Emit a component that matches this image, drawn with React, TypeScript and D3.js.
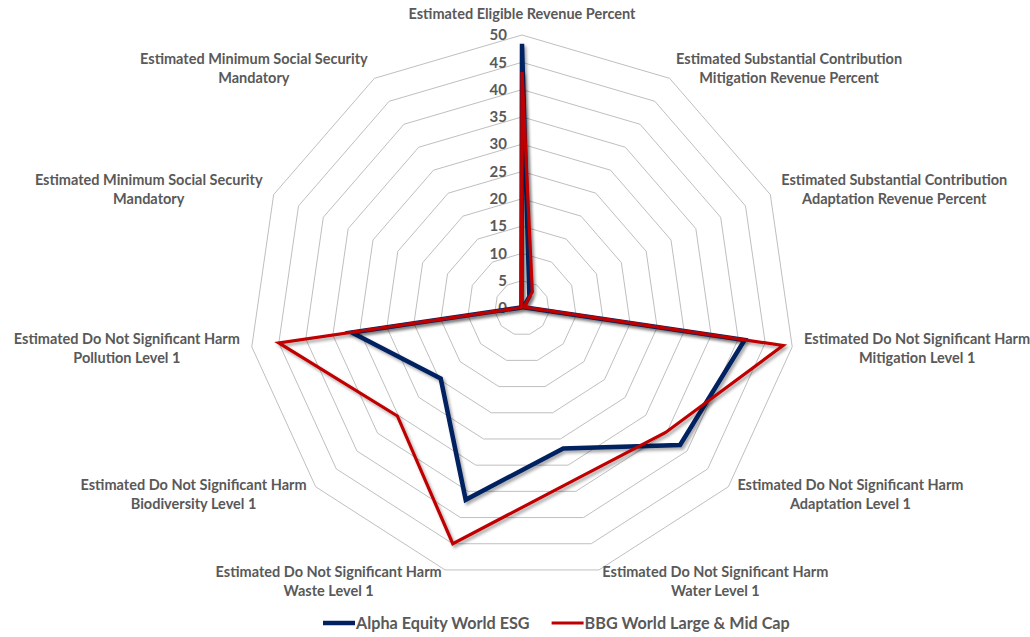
import React from "react";
import * as d3 from "d3";

const WIDTH = 1030;
const HEIGHT = 637;
const CENTER = { x: 522, y: 308 };
const RADIUS = 273;

const categories = [
  ["Estimated Eligible Revenue Percent"],
  ["Estimated Substantial Contribution", "Mitigation Revenue Percent"],
  ["Estimated Substantial Contribution", "Adaptation Revenue Percent"],
  ["Estimated Do Not Significant Harm", "Mitigation Level 1"],
  ["Estimated Do Not Significant Harm", "Adaptation Level 1"],
  ["Estimated Do Not Significant Harm", "Water Level 1"],
  ["Estimated Do Not Significant Harm", "Waste Level 1"],
  ["Estimated Do Not Significant Harm", "Biodiversity Level 1"],
  ["Estimated Do Not Significant Harm", "Pollution Level 1"],
  ["Estimated Minimum Social Security", "Mandatory"],
  ["Estimated Minimum Social Security", "Mandatory"],
];

const alphaValues = [48.4, 2.5, 0.3, 41.2, 38.3, 26.8, 36.6, 19.7, 31.5, 0.2, 0.2];
const bbgValues = [43.2, 3.5, 0.4, 48.3, 34.8, 33, 45, 30.2, 45, 0.2, 0.2];

const ticks = [0, 5, 10, 15, 20, 25, 30, 35, 40, 45, 50];

const seriesNames = ["Alpha Equity World ESG", "BBG World Large & Mid Cap"];
const seriesColors = ["#002060", "#C00000"];
const seriesWidths = [4.5, 3.2];

const FONT = "Lato, 'Open Sans', sans-serif";
const TEXT_COLOR = "#595959";

const RadarChart = () => {
  const ref = React.useRef<SVGSVGElement>(null);

  React.useEffect(() => {
    const svg = d3.select(ref.current!);
    svg.selectAll("*").remove();

    const n = categories.length;
    const r = d3.scaleLinear().domain([0, 50]).range([0, RADIUS]);
    const angle = (i: number) => (i * 2 * Math.PI) / n;
    const point = (i: number, v: number): [number, number] => [
      CENTER.x + Math.sin(angle(i)) * r(v),
      CENTER.y - Math.cos(angle(i)) * r(v),
    ];

    const defs = svg.append("defs");
    defs
      .append("filter")
      .attr("id", "shadow")
      .attr("x", "-10%")
      .attr("y", "-10%")
      .attr("width", "130%")
      .attr("height", "130%")
      .append("feDropShadow")
      .attr("dx", 2)
      .attr("dy", 2.5)
      .attr("stdDeviation", 1.6)
      .attr("flood-color", "#000")
      .attr("flood-opacity", 0.35);

    const line = d3
      .line<[number, number]>()
      .x((d) => d[0])
      .y((d) => d[1])
      .curve(d3.curveLinearClosed);

    // grid rings
    svg
      .append("g")
      .selectAll("path")
      .data(ticks.slice(1))
      .enter()
      .append("path")
      .attr("d", (t) => line(d3.range(n).map((i) => point(i, t))))
      .attr("fill", "none")
      .attr("stroke", "#bfbfbf")
      .attr("stroke-width", 1);

    // tick labels
    svg
      .append("g")
      .selectAll("text")
      .data(ticks)
      .enter()
      .append("text")
      .attr("x", CENTER.x - 15)
      .attr("y", (t) => CENTER.y - r(t))
      .attr("dy", "0.35em")
      .attr("text-anchor", "end")
      .attr("font-family", FONT)
      .attr("font-size", 15)
      .attr("font-weight", "bold")
      .attr("fill", TEXT_COLOR)
      .text((t) => t);

    // series
    const series = [alphaValues, bbgValues];
    svg
      .append("g")
      .selectAll("path")
      .data(series)
      .enter()
      .append("path")
      .attr("d", (vals) => line(vals.map((v, i) => point(i, v))))
      .attr("fill", "none")
      .attr("stroke", (_, k) => seriesColors[k])
      .attr("stroke-width", (_, k) => seriesWidths[k])
      .attr("stroke-linejoin", "miter")
      .attr("filter", "url(#shadow)");

    // category labels
    const labels = svg
      .append("g")
      .attr("font-family", FONT)
      .attr("font-size", 14.5)
      .attr("font-weight", "bold")
      .attr("fill", TEXT_COLOR);
    categories.forEach((lines, i) => {
      const [x, y] = point(i, 50 + (12 / RADIUS) * 50);
      const s = Math.sin(angle(i));
      const anchor = s > 0.1 ? "start" : s < -0.1 ? "end" : "middle";
      const top = lines.length === 1 ? y - 9 : y - ((lines.length - 1) * 19) / 2;
      const t = labels
        .append("text")
        .attr("text-anchor", "middle")
        .attr("x", x)
        .attr("y", top);
      lines.forEach((l, j) => {
        t.append("tspan").attr("x", x).attr("dy", j === 0 ? "0.35em" : 19).text(l);
      });
      // keep the block's lines centred on each other, aligned to the axis side
      const w = t.node()!.getBBox().width;
      const cx = anchor === "start" ? x + w / 2 : anchor === "end" ? x - w / 2 : x;
      t.selectAll("tspan").attr("x", cx);
    });

    // legend
    const legend = svg.append("g").attr("transform", `translate(0, 623)`);
    let lx = 323;
    seriesNames.forEach((name, k) => {
      legend
        .append("line")
        .attr("x1", lx)
        .attr("x2", lx + 32)
        .attr("y1", 0)
        .attr("y2", 0)
        .attr("stroke", seriesColors[k])
        .attr("stroke-width", seriesWidths[k]);
      const txt = legend
        .append("text")
        .attr("x", lx + 33)
        .attr("y", 0)
        .attr("dy", "0.35em")
        .attr("font-family", FONT)
        .attr("font-size", 16.2)
        .attr("font-weight", "bold")
        .attr("fill", TEXT_COLOR)
        .text(name);
      lx += 33 + txt.node()!.getComputedTextLength() + 22;
    });
  }, []);

  return (
    <svg
      ref={ref}
      width={WIDTH}
      height={HEIGHT}
      style={{ position: "absolute", left: 0, top: 0, background: "#fff" }}
    />
  );
};

export default function App() {
  return <RadarChart />;
}
